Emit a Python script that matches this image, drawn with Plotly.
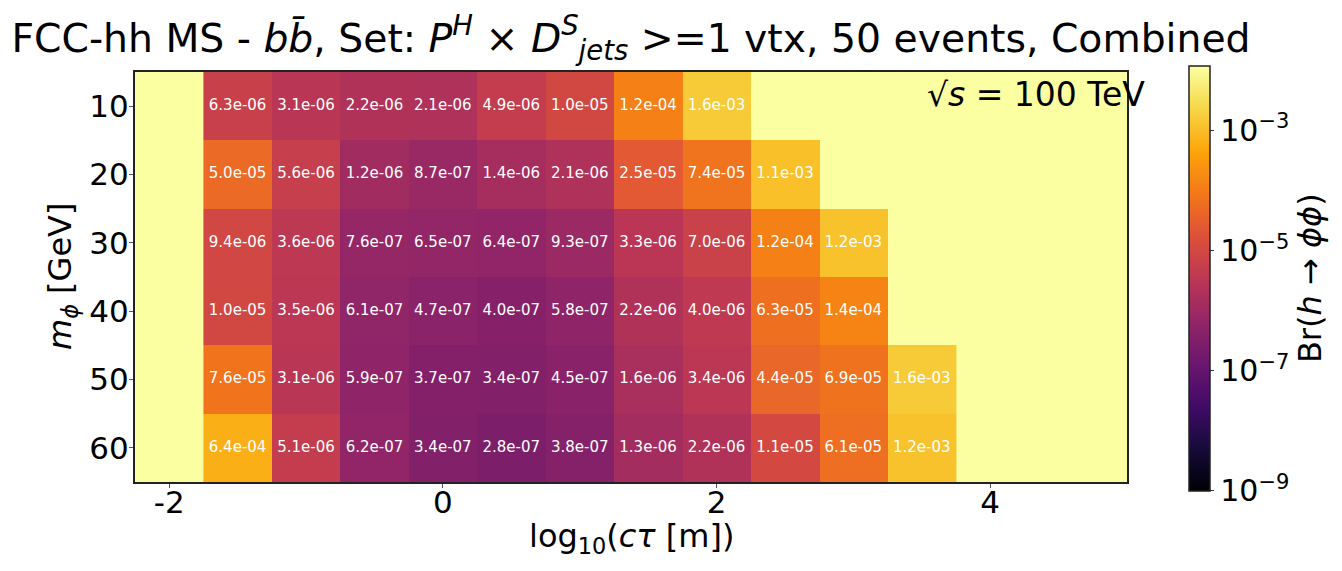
"""Br(h -> phi phi) reach heatmap, FCC-hh MS, bb channel."""

import numpy as np
import plotly.graph_objects as go

FONT = "DejaVu Sans"

# -- data ---------------------------------------------------------------------
log_ctau = [-1.5, -1.0, -0.5, 0.0, 0.5, 1.0, 1.5, 2.0, 2.5, 3.0, 3.5]
m_phi = [10, 20, 30, 40, 50, 60]

br_m10 = [6.3e-06, 3.1e-06, 2.2e-06, 2.1e-06, 4.9e-06, 1.0e-05, 1.2e-04, 1.6e-03, None, None, None]
br_m20 = [5.0e-05, 5.6e-06, 1.2e-06, 8.7e-07, 1.4e-06, 2.1e-06, 2.5e-05, 7.4e-05, 1.1e-03, None, None]
br_m30 = [9.4e-06, 3.6e-06, 7.6e-07, 6.5e-07, 6.4e-07, 9.3e-07, 3.3e-06, 7.0e-06, 1.2e-04, 1.2e-03, None]
br_m40 = [1.0e-05, 3.5e-06, 6.1e-07, 4.7e-07, 4.0e-07, 5.8e-07, 2.2e-06, 4.0e-06, 6.3e-05, 1.4e-04, None]
br_m50 = [7.6e-05, 3.1e-06, 5.9e-07, 3.7e-07, 3.4e-07, 4.5e-07, 1.6e-06, 3.4e-06, 4.4e-05, 6.9e-05, 1.6e-03]
br_m60 = [6.4e-04, 5.1e-06, 6.2e-07, 3.4e-07, 2.8e-07, 3.8e-07, 1.3e-06, 2.2e-06, 1.1e-05, 6.1e-05, 1.2e-03]

x_ticks = [-2, 0, 2, 4]
x_ticktext = ["-2", "0", "2", "4"]
cbar_ticks = [-9, -7, -5, -3]
cbar_ticktext = ["10<sup>−9</sup>", "10<sup>−7</sup>", "10<sup>−5</sup>", "10<sup>−3</sup>"]

# matplotlib "inferno" sampled at deciles
inferno = [
    [0.0, "#000004"], [0.1, "#160b39"], [0.2, "#420a68"], [0.3, "#6a176e"],
    [0.4, "#932667"], [0.5, "#bc3754"], [0.6, "#dd513a"], [0.7, "#f37819"],
    [0.8, "#fca50a"], [0.9, "#f6d746"], [1.0, "#fcffa4"],
]

rows = [br_m10, br_m20, br_m30, br_m40, br_m50, br_m60]
z = [[np.log10(v) if v is not None else None for v in r] for r in rows]

# cell labels only where a value exists
lab_x, lab_y, lab_t = [], [], []
for m, r in zip(m_phi, rows):
    for x, v in zip(log_ctau, r):
        if v is not None:
            lab_x.append(x)
            lab_y.append(m)
            lab_t.append(f"{v:.1e}")

# page body has an 8px margin, so the figure is sized/offset to compensate
W, H = 1334, 563
L, T, PW, PH = 127, 64, 992, 410

# -- figure -------------------------------------------------------------------
fig = go.Figure()
fig.add_trace(
    go.Heatmap(
        x=log_ctau, y=m_phi, z=z,
        colorscale=inferno, zmin=-9, zmax=-1.92,
        hoverinfo="skip",
        colorbar=dict(
            tickvals=cbar_ticks, ticktext=cbar_ticktext,
            tickfont=dict(size=30, family=FONT, color="black"),
            ticks="outside", ticklen=4, tickcolor="#333",
            thickness=21, len=425, lenmode="pixels",
            x=1.0625, xanchor="left", y=0.497, yanchor="middle",
            xpad=0, ypad=0, outlinewidth=1.5, outlinecolor="#222",
            title=dict(text="Br(<i>h</i> → <i>ϕϕ</i>)", side="right",
                       font=dict(size=32, family=FONT, color="black")),
        ),
    )
)
fig.add_trace(
    go.Scatter(
        x=lab_x, y=lab_y, text=lab_t, mode="text",
        textfont=dict(color="white", size=15, family=FONT),
        hoverinfo="skip", showlegend=False,
    )
)

axis_style = dict(
    showline=True, mirror=True, linecolor="#222", linewidth=2,
    ticks="outside", ticklen=4, tickcolor="#555",
    showgrid=False, zeroline=False, automargin=False,
    tickfont=dict(size=31, family=FONT, color="black"),
)

fig.update_xaxes(range=[-2.25, 5.0], tickvals=x_ticks, ticktext=x_ticktext,
                 ticklabelstandoff=-12, **axis_style)
fig.update_yaxes(range=[65, 5], tickvals=m_phi, ticktext=[str(m) for m in m_phi],
                 ticklabelstandoff=-6, **axis_style)

# axis titles as annotations for exact placement
fig.add_annotation(
    text="log<sub>10</sub>(<i>cτ</i> [m])", xref="paper", yref="paper",
    x=0.5, y=-56 / PH, xanchor="center", yanchor="middle", showarrow=False,
    font=dict(size=32, family=FONT, color="black"),
)
fig.add_annotation(
    text="<i>m</i><sub><i>ϕ</i></sub> [GeV]", xref="paper", yref="paper",
    x=-73 / PW, y=0.5, xanchor="center", yanchor="middle", showarrow=False,
    textangle=-90, font=dict(size=32, family=FONT, color="black"),
)
fig.add_annotation(
    text="√<i>s</i> = 100 TeV", xref="paper", yref="paper",
    x=1.0202, y=0.944, xanchor="right", yanchor="middle", showarrow=False,
    font=dict(size=33, family=FONT, color="black"),
)

fig.update_layout(
    width=W, height=H,
    template="none",
    margin=dict(l=L, r=W - L - PW, t=T, b=H - T - PH),
    paper_bgcolor="white", plot_bgcolor="#fbfea1",
    font=dict(family=FONT, color="black"),
    title=dict(
        text=("FCC-hh MS - <i>bb̄</i>, Set: <i>P</i><sup><i>H</i></sup> × "
              "<i>D</i><sup><i>S</i></sup><sub><i>jets</i></sub> &gt;=1 vtx, 50 events, Combined"),
        x=0.5, xref="paper", xanchor="center",
        y=1 - 30 / H, yanchor="middle",
        font=dict(size=39.3, family=FONT, color="black"),
    ),
)

fig.write_html("out.html")
